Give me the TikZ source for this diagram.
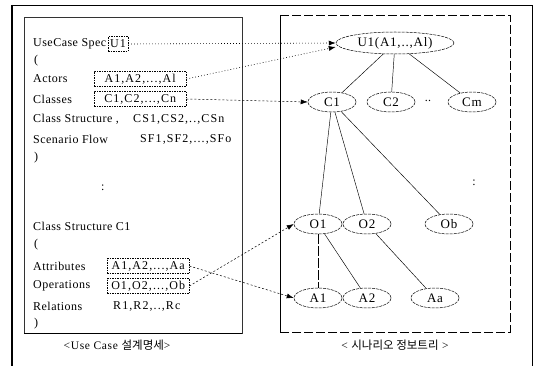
\documentclass[tikz,border=0pt]{standalone}
\usepackage{fontspec}
\setmainfont{Liberation Serif}
\newfontfamily\krfont{Noto Sans CJK KR}
\usetikzlibrary{arrows.meta,shapes.geometric}
\begin{document}
\begin{tikzpicture}[x=1pt,y=-1pt,
  txt/.style={anchor=west,inner sep=0pt,font=\fontsize{12}{14}\selectfont\addfontfeature{LetterSpace=4}},
  valbox/.style={draw,dash pattern=on 1.5pt off 1pt,line width=0.4pt,anchor=west,inner xsep=1pt,
    minimum height=15pt,inner ysep=1pt,font=\fontsize{12}{14}\selectfont\addfontfeature{LetterSpace=9}},
  val/.style={anchor=west,inner sep=0pt,font=\fontsize{12}{14}\selectfont\addfontfeature{LetterSpace=9}},
  tnode/.style={ellipse,draw,dash pattern=on 3pt off 1pt,line width=0.5pt,minimum width=48pt,
    minimum height=20pt,inner sep=0pt,font=\fontsize{13}{15}\selectfont\addfontfeature{LetterSpace=6}},
  branch/.style={line width=0.45pt},
  link/.style={line width=0.5pt,dash pattern=on 2pt off 2pt,-{Latex[length=7pt,width=5pt]}},
  dotlink/.style={line width=0.6pt,dash pattern=on 0.8pt off 2.2pt,-{Latex[length=7pt,width=5pt]}},
  caption/.style={inner sep=0pt,font=\fontsize{11.5}{13}\selectfont\addfontfeature{LetterSpace=6}},
]
\useasboundingbox (0,0) rectangle (534,366);

% outer frame of the table cell
\draw[line width=1.6pt] (12,5) -- (12,366);
\draw[line width=0.9pt] (12,5) -- (532,5) -- (532,366);

% specification panel
\draw[line width=0.6pt,black!80] (24,17) rectangle (242,333);
\draw[line width=1pt] (24,333) -- (242,333);

% information tree panel
\draw[line width=0.8pt] (280,15) -- (280,332);
\draw[line width=0.7pt,dash pattern=on 9pt off 3pt] (280,15) -- (510,15) -- (510,332) -- (280,332);

% use case specification text
\node[txt] (spec) at (33,44) {UseCase Spec};
\node[valbox,anchor=west,inner xsep=2pt] (u1box) at (108,44) {U1};
\node[txt] (open1) at (34,61) {(};
\node[txt] (actors) at (33,79) {Actors};
\node[valbox,minimum width=92pt] (actbox) at (94,79) {A1,A2,...,Al};
\node[txt] (classes) at (33,99) {Classes};
\node[valbox,minimum width=92pt] (clsbox) at (94,99) {C1,C2,...,Cn};
\node[txt] (cstruct) at (33,119) {Class Structure ,};
\node[val] (csval) at (133,119) {CS1,CS2,..,CSn};
\node[txt] (sflow) at (33,139) {Scenario Flow};
\node[val] (sfval) at (140,139) {SF1,SF2,...,SFo};
\node[txt] (close1) at (34,158) {)};
\node[txt] (vdots1) at (101,188) {:};

\node[txt] (cs1) at (33,226) {Class Structure C1};
\node[txt] (open2) at (34,245) {(};
\node[txt] (attr) at (33,266) {Attributes};
\node[valbox,minimum width=82pt] (attbox) at (107,266) {A1,A2,...,Aa};
\node[txt] (oper) at (33,286) {Operations};
\node[valbox,minimum width=82pt] (opbox) at (107,286) {O1,O2,...,Ob};
\node[txt] (rel) at (33,306) {Relations};
\node[val] (relval) at (113,306) {R1,R2,..,Rc};
\node[txt] (close2) at (34,324) {)};

% scenario information tree
\node[tnode,minimum width=118pt,minimum height=22pt] (U1) at (395,43) {U1(A1,..,Al)};
\node[tnode] (C1) at (332,102) {C1};
\node[tnode] (C2) at (391,102) {C2};
\node[txt,anchor=center] (cdots) at (428,101) {..};
\node[tnode] (Cm) at (472,102) {Cm};
\node[txt,anchor=center] (vdots2) at (474,183) {:};
\node[tnode] (O1) at (318,224) {O1};
\node[tnode] (O2) at (367,224) {O2};
\node[tnode] (Ob) at (449,224) {Ob};
\node[tnode] (A1) at (318,298) {A1};
\node[tnode] (A2) at (367,298) {A2};
\node[tnode] (Aa) at (435,298) {Aa};

\draw[branch] (U1) -- (C1);
\draw[branch] (U1) -- (C2);
\draw[branch] (U1) -- (Cm);
\draw[branch] (C1) -- (O1);
\draw[branch] (C1) -- (O2);
\draw[branch] (C1) -- (Ob);
\draw[branch,dash pattern=on 10pt off 2pt] (O1) -- (A1);
\draw[branch] (O1) -- (A2);
\draw[branch] (O2) -- (Aa);

% mapping from the specification to the tree
\draw[dotlink] (u1box.east) -- (U1.west);
\draw[dotlink] (actbox.east) -- ([yshift=-4pt]U1.west);
\draw[link] (clsbox.east) -- (C1.west);
\draw[link] (opbox.east) -- (O1.west);
\draw[link] (attbox.east) -- (A1.west);

% captions
\node[caption] (capL) at (117,345) {<Use Case {\krfont 설계명세}>};
\node[caption] (capR) at (395,345) {< {\krfont 시나리오 정보트리} >};
\end{tikzpicture}
\end{document}
